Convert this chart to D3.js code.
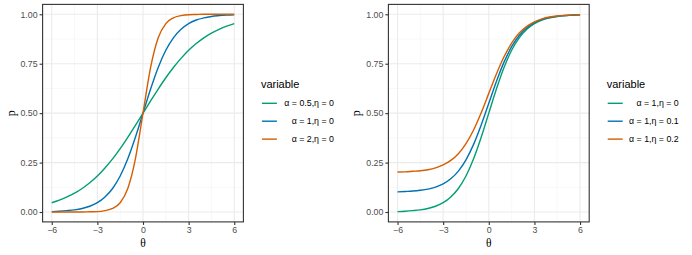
<!DOCTYPE html>
<html>
<head>
<meta charset="utf-8">
<script src="https://cdn.jsdelivr.net/npm/d3@7"></script>
<style>
  body { margin: 0; background: #fff; }
  svg text { font-family: "Liberation Sans", Arial, sans-serif; }
</style>
</head>
<body>
<svg id="chart" width="692" height="255"></svg>
<script>
// theta grid, read every 0.5
var theta = [-6, -5.5, -5, -4.5, -4, -3.5, -3, -2.5, -2, -1.5, -1, -0.5, 0,
  0.5, 1, 1.5, 2, 2.5, 3, 3.5, 4, 4.5, 5, 5.5, 6];

// left panel: alpha varies, eta = 0
var pA05 = [0.047, 0.060, 0.076, 0.095, 0.119, 0.148, 0.182, 0.223, 0.269, 0.321, 0.378, 0.438, 0.500,
  0.562, 0.622, 0.679, 0.731, 0.777, 0.818, 0.852, 0.881, 0.905, 0.924, 0.940, 0.953];
var pA1 = [0.002, 0.004, 0.007, 0.011, 0.018, 0.029, 0.047, 0.076, 0.119, 0.182, 0.269, 0.378, 0.500,
  0.622, 0.731, 0.818, 0.881, 0.924, 0.953, 0.971, 0.982, 0.989, 0.993, 0.996, 0.998];
var pA2 = [0.000, 0.000, 0.000, 0.000, 0.000, 0.001, 0.002, 0.007, 0.018, 0.047, 0.119, 0.269, 0.500,
  0.731, 0.881, 0.953, 0.982, 0.993, 0.998, 0.999, 1.000, 1.000, 1.000, 1.000, 1.000];

// right panel: alpha = 1, eta varies
var pE0 = [0.002, 0.004, 0.007, 0.011, 0.018, 0.029, 0.047, 0.076, 0.119, 0.182, 0.269, 0.378, 0.500,
  0.622, 0.731, 0.818, 0.881, 0.924, 0.953, 0.971, 0.982, 0.989, 0.993, 0.996, 0.998];
var pE01 = [0.102, 0.104, 0.106, 0.110, 0.116, 0.126, 0.142, 0.168, 0.207, 0.264, 0.342, 0.440, 0.550,
  0.660, 0.758, 0.836, 0.893, 0.932, 0.958, 0.974, 0.984, 0.990, 0.994, 0.996, 0.998];
var pE02 = [0.202, 0.203, 0.206, 0.209, 0.214, 0.223, 0.238, 0.261, 0.295, 0.346, 0.415, 0.502, 0.600,
  0.698, 0.785, 0.854, 0.905, 0.939, 0.962, 0.977, 0.986, 0.991, 0.994, 0.997, 0.998];

var leftLabels = ["\u03B1 = 0.5,\u03B7 = 0", "\u03B1 = 1,\u03B7 = 0", "\u03B1 = 2,\u03B7 = 0"];
var rightLabels = ["\u03B1 = 1,\u03B7 = 0", "\u03B1 = 1,\u03B7 = 0.1", "\u03B1 = 1,\u03B7 = 0.2"];

var xTicks = [-6, -3, 0, 3, 6];
var yTicks = [0, 0.25, 0.5, 0.75, 1];
var xMinor = [-4.5, -1.5, 1.5, 4.5];
var yMinor = [0.125, 0.375, 0.625, 0.875];

var colors = ["#009E73", "#0072B2", "#D55E00"];

var svg = d3.select("#chart");

function drawPanel(left, seriesList, labels) {
  var w = 200.8, h = 217.5, top = 4.4;
  var x = d3.scaleLinear().domain([-6.6, 6.6]).range([0, w]);
  var y = d3.scaleLinear().domain([-0.05, 1.05]).range([h, 0]);

  var g = svg.append("g").attr("transform", "translate(" + left + "," + top + ")");

  // grid
  g.selectAll(".xminor").data(xMinor).enter().append("line")
    .attr("x1", function(d) { return x(d); }).attr("x2", function(d) { return x(d); })
    .attr("y1", 0).attr("y2", h)
    .attr("stroke", "#F3F3F3").attr("stroke-width", 0.6);
  g.selectAll(".yminor").data(yMinor).enter().append("line")
    .attr("y1", function(d) { return y(d); }).attr("y2", function(d) { return y(d); })
    .attr("x1", 0).attr("x2", w)
    .attr("stroke", "#F3F3F3").attr("stroke-width", 0.6);
  g.selectAll(".xmajor").data(xTicks).enter().append("line")
    .attr("x1", function(d) { return x(d); }).attr("x2", function(d) { return x(d); })
    .attr("y1", 0).attr("y2", h)
    .attr("stroke", "#EBEBEB").attr("stroke-width", 1.1);
  g.selectAll(".ymajor").data(yTicks).enter().append("line")
    .attr("y1", function(d) { return y(d); }).attr("y2", function(d) { return y(d); })
    .attr("x1", 0).attr("x2", w)
    .attr("stroke", "#EBEBEB").attr("stroke-width", 1.1);

  // curves
  var line = d3.line()
    .x(function(d) { return x(d[0]); })
    .y(function(d) { return y(d[1]); })
    .curve(d3.curveMonotoneX);

  seriesList.forEach(function(vals, i) {
    g.append("path")
      .datum(theta.map(function(t, j) { return [t, vals[j]]; }))
      .attr("fill", "none")
      .attr("stroke", colors[i])
      .attr("stroke-width", 1.4)
      .attr("d", line);
  });

  // border
  g.append("rect").attr("width", w).attr("height", h)
    .attr("fill", "none").attr("stroke", "#333333").attr("stroke-width", 1.1);

  // axes
  var xAxis = g.append("g").attr("transform", "translate(0," + h + ")")
    .call(d3.axisBottom(x).tickValues(xTicks).tickSize(3).tickPadding(2)
      .tickFormat(function(d) { return d < 0 ? "\u2212" + Math.abs(d) : d; }));
  var yAxis = g.append("g")
    .call(d3.axisLeft(y).tickValues(yTicks).tickSize(3).tickPadding(2).tickFormat(d3.format(".2f")));
  [xAxis, yAxis].forEach(function(a) {
    a.select(".domain").remove();
    a.selectAll(".tick line").attr("stroke", "#333333").attr("stroke-width", 1.1);
    a.selectAll(".tick text").attr("fill", "#4D4D4D").style("font-size", "8.8px");
  });

  // axis titles
  g.append("text")
    .attr("x", w / 2).attr("y", h + 25)
    .attr("text-anchor", "middle")
    .style("font-family", "'Liberation Serif', serif")
    .style("font-size", "11.5px")
    .text("\u03B8");
  g.append("text")
    .attr("transform", "translate(" + (-28) + "," + (h / 2) + ") rotate(-90)")
    .attr("text-anchor", "middle")
    .style("font-family", "'Liberation Serif', serif")
    .style("font-size", "12px")
    .text("p");

  // legend
  var lg = svg.append("g").attr("transform", "translate(" + (left + w + 17.5) + ",0)");
  lg.append("text").attr("x", 0).attr("y", 88)
    .style("font-size", "11px").attr("fill", "#000")
    .text("variable");
  labels.forEach(function(lab, i) {
    var yy = 103.3 + i * 17.9;
    lg.append("line").attr("x1", 1).attr("x2", 16).attr("y1", yy).attr("y2", yy)
      .attr("stroke", colors[i]).attr("stroke-width", 1.4);
    lg.append("text").attr("x", left < 300 ? 73 : 72).attr("y", yy + 3)
      .attr("text-anchor", "end")
      .style("font-size", "8.8px")
      .text(lab);
  });
}

drawPanel(42.6, [pA05, pA1, pA2], leftLabels);
drawPanel(388.4, [pE0, pE01, pE02], rightLabels);
</script>
</body>
</html>
